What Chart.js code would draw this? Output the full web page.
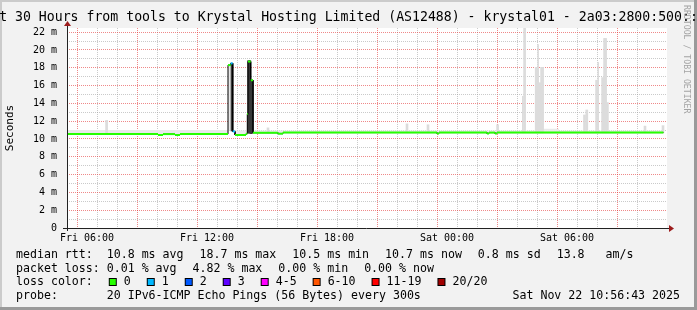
<!DOCTYPE html>
<html>
<head>
<meta charset="utf-8">
<script src="https://cdn.jsdelivr.net/npm/chart.js@4.4.1/dist/chart.umd.min.js"></script>
<style>
  body { margin: 0; background: #f2f2f2; }
  canvas { display: block; }
</style>
</head>
<body>
<canvas id="smoke" width="697" height="310"></canvas>
<script>
// x values are hours since Fri 00:00, y values are milliseconds
var xMin = 5, xMax = 35;
var yMax = 22.47;

// median rtt, as flat runs: start hour, end hour, value, loss level
var runStart = [5.0, 9.55, 9.8, 10.4, 10.65, 13.05, 13.185, 13.285, 13.4, 13.95, 14.015, 14.05, 14.185, 14.3, 15.55, 15.8, 23.5, 23.6, 26.0, 26.1, 26.4, 26.5];
var runEnd   = [9.55, 9.8, 10.4, 10.65, 13.05, 13.185, 13.285, 13.4, 13.95, 14.015, 14.05, 14.185, 14.3, 15.55, 15.8, 23.5, 23.6, 26.0, 26.1, 26.4, 26.5, 34.82];
var runVal   = [10.55, 10.45, 10.55, 10.45, 10.55, 18.3, 18.5, 10.85, 10.45, 10.6, 12.8, 18.7, 16.6, 10.7, 10.6, 10.72, 10.62, 10.72, 10.62, 10.72, 10.62, 10.72];
var runLoss  = [0, 0, 0, 0, 0, 0, 1, 1, 0, 0, 0, 0, 0, 0, 0, 0, 0, 0, 0, 0, 0, 0];

// thin smoke band just above the median
var bandX   = [5.0, 13.05, 14.3, 28.8, 29.6, 34.82];
var bandTop = [11.0, 10.95, 10.95, 11.15, 10.95, 10.95];

// smoke spikes (light grey)
var smokeX    = [6.98, 15.05, 22.0, 23.05, 26.53, 27.88, 28.46, 28.52, 28.61, 28.67, 28.73, 28.78, 30.875, 30.99, 31.48, 31.78, 31.88, 31.93, 32.02, 33.9, 34.8];
var smokeLow  = [10.55, 10.7, 10.7, 10.7, 10.7, 10.7, 10.7, 10.7, 10.7, 10.7, 10.7, 10.7, 10.7, 10.7, 10.7, 10.7, 10.7, 10.7, 10.7, 10.7, 10.7];
var smokeHigh = [12.1, 11.25, 11.7, 11.6, 11.6, 22.47, 18.05, 18.05, 16.3, 16.3, 18.05, 18.05, 12.7, 13.26, 16.6, 16.9, 21.3, 21.3, 14.1, 11.45, 11.5];
var thinX    = [27.79, 28.555, 31.56];
var thinLow  = [10.7, 10.7, 10.7];
var thinHigh = [14.8, 20.6, 18.6];

// dense smoke at the two rtt spikes
var darkX    = [13.25, 14.08, 14.14, 14.22];
var darkLow  = [10.9, 10.65, 10.65, 10.6];
var darkHigh = [18.5, 18.8, 18.8, 16.6];

var lossLabels = ['0', '1', '2', '3', '4-5', '6-10', '11-19', '20/20'];
var lossColors = ['#26ff00', '#00b8ff', '#0059ff', '#5e00ff', '#ff00ff', '#ff5500', '#ff0000', '#a10000'];

var titleText = 'Last 30 Hours from tools to Krystal Hosting Limited (AS12488) - krystal01 - 2a03:2800:500::100';
var rttLegend = ['median rtt:  10.8 ms avg', '18.7 ms max', '10.5 ms min', '10.7 ms now', '0.8 ms sd', '13.8   am/s'];
var lossLegend = ['packet loss: 0.01 % avg', '4.82 % max', '0.00 % min', '0.00 % now'];
var probeText = 'probe:       20 IPv6-ICMP Echo Pings (56 Bytes) every 300s';
var dateText = 'Sat Nov 22 10:56:43 2025';

var FONT = '"DejaVu Sans Mono", monospace';

var medPoints = [];
for (var i = 0; i < runStart.length; i++) {
  medPoints.push({x: runStart[i], y: runVal[i]}, {x: runEnd[i], y: runVal[i]});
}
function bars(xs, lo, hi) {
  return xs.map(function(x, i) { return {x: x, y: [lo[i], hi[i]]}; });
}

var minorGrid = 'rgba(150,150,150,0.5)';
var majorGrid = 'rgba(225,40,40,0.55)';

var frame = {
  id: 'frame',
  beforeDraw: function(chart) {
    var ctx = chart.ctx, a = chart.chartArea;
    ctx.save();
    ctx.fillStyle = '#f2f2f2';
    ctx.fillRect(0, 0, 697, 310);
    ctx.fillStyle = '#cbcbcb';
    ctx.fillRect(0, 0, 697, 2);
    ctx.fillRect(0, 0, 2, 310);
    ctx.fillStyle = '#9a9a9a';
    ctx.fillRect(0, 307, 697, 3);
    ctx.fillRect(694, 0, 3, 310);
    ctx.fillStyle = '#ffffff';
    ctx.fillRect(a.left, a.top, a.right - a.left, a.bottom - a.top);
    ctx.restore();
  },
  afterDraw: function(chart) {
    var ctx = chart.ctx, a = chart.chartArea;
    ctx.save();
    // axes with arrows
    ctx.strokeStyle = '#222';
    ctx.lineWidth = 1;
    ctx.beginPath();
    ctx.moveTo(a.left - 4, a.bottom + 0.5);
    ctx.lineTo(a.right + 3, a.bottom + 0.5);
    ctx.moveTo(a.left + 0.5, a.bottom + 3);
    ctx.lineTo(a.left + 0.5, a.top - 3);
    ctx.stroke();
    ctx.fillStyle = '#9c1c1c';
    ctx.beginPath();
    ctx.moveTo(a.right + 2, a.bottom - 3);
    ctx.lineTo(a.right + 7, a.bottom + 0.5);
    ctx.lineTo(a.right + 2, a.bottom + 4);
    ctx.closePath();
    ctx.fill();
    ctx.beginPath();
    ctx.moveTo(a.left - 3, a.top - 2);
    ctx.lineTo(a.left + 0.5, a.top - 7);
    ctx.lineTo(a.left + 4, a.top - 2);
    ctx.closePath();
    ctx.fill();

    // title
    ctx.fillStyle = '#000';
    ctx.textBaseline = 'middle';
    ctx.textAlign = 'center';
    ctx.font = '13.2px ' + FONT;
    ctx.fillText(titleText, 348.5, 18);

    // legend
    ctx.textAlign = 'left';
    ctx.font = '11.6px ' + FONT;
    var x = 16;
    rttLegend.forEach(function(t) {
      ctx.fillText(t, x, 254.5);
      x += ctx.measureText(t).width + 16;
    });
    x = 16;
    lossLegend.forEach(function(t) {
      ctx.fillText(t, x, 268.5);
      x += ctx.measureText(t).width + 16;
    });
    ctx.fillText('loss color:', 16, 282);
    x = 16 + ctx.measureText('loss color:').width + 16;
    lossLabels.forEach(function(t, i) {
      ctx.fillStyle = '#000';
      ctx.fillRect(x, 278, 8, 8);
      ctx.fillStyle = lossColors[i];
      ctx.fillRect(x + 1, 279, 6, 6);
      ctx.fillStyle = '#000';
      ctx.fillText(t, x + 15, 282);
      x += 15 + ctx.measureText(t).width + 16;
    });
    ctx.fillText(probeText, 16, 296);
    ctx.textAlign = 'right';
    ctx.fillText(dateText, 680, 296);

    // rrdtool credit
    ctx.translate(686, 5);
    ctx.rotate(Math.PI / 2);
    ctx.textAlign = 'left';
    ctx.font = '8.2px ' + FONT;
    ctx.fillStyle = '#a4a4a4';
    ctx.fillText('RRDTOOL / TOBI OETIKER', 0, 0);
    ctx.restore();
  }
};

function gridColor(major, skip) {
  return function(c) {
    if (!c.tick) return 'rgba(0,0,0,0)';
    var v = c.tick.value;
    if (skip(v)) return 'rgba(0,0,0,0)';
    return v % major === 0 ? majorGrid : minorGrid;
  };
}

var ctx = document.getElementById('smoke').getContext('2d');
var chart = new Chart(ctx, {
  type: 'line',
  data: {
    datasets: [{
      label: 'median',
      data: medPoints,
      borderWidth: 2,
      pointRadius: 0,
      order: 0,
      segment: {
        borderColor: function(c) {
          if (c.p0DataIndex % 2 === 1) return 'rgba(0,0,0,0)';
          return lossColors[runLoss[c.p0DataIndex / 2]];
        }
      }
    }, {
      label: 'median line',
      data: medPoints,
      borderColor: '#000',
      borderWidth: 1,
      pointRadius: 0,
      order: 1
    }, {
      label: 'smoke band',
      data: bandX.map(function(x, i) { return {x: x, y: bandTop[i]}; }),
      stepped: true,
      borderWidth: 0,
      pointRadius: 0,
      backgroundColor: '#e9e9e9',
      fill: 1,
      order: 4
    }, {
      type: 'bar',
      label: 'smoke',
      data: bars(smokeX, smokeLow, smokeHigh),
      backgroundColor: '#dcdcdc',
      barThickness: 2,
      grouped: false,
      order: 3
    }, {
      type: 'bar',
      label: 'smoke thin',
      data: bars(thinX, thinLow, thinHigh),
      backgroundColor: '#dcdcdc',
      barThickness: 1,
      grouped: false,
      order: 3
    }, {
      type: 'bar',
      label: 'dense smoke',
      data: bars(darkX, darkLow, darkHigh),
      backgroundColor: '#383838',
      barThickness: 2,
      grouped: false,
      order: 2
    }]
  },
  options: {
    responsive: false,
    animation: false,
    devicePixelRatio: 1,
    layout: { padding: { left: 0, right: 30, top: 28, bottom: 62 } },
    plugins: {
      legend: { display: false },
      tooltip: { enabled: false },
      title: { display: false }
    },
    scales: {
      x: {
        type: 'linear',
        min: xMin,
        max: xMax,
        offset: false,
        afterFit: function(s) { s.height = 20; },
        border: { display: false, dash: [1, 1] },
        grid: {
          drawTicks: false,
          color: gridColor(3, function(v) { return v === xMin || v === xMax; })
        },
        ticks: {
          stepSize: 1,
          autoSkip: false,
          maxRotation: 0,
          includeBounds: false,
          padding: 4,
          color: '#000',
          font: { family: FONT, size: 10 },
          callback: function(v) {
            if (v % 6 !== 0) return '';
            var h = v % 24;
            return (v < 24 ? 'Fri ' : 'Sat ') + (h < 10 ? '0' : '') + h + ':00';
          }
        }
      },
      y: {
        min: 0,
        max: yMax,
        afterFit: function(s) { s.width = 67; },
        border: { display: false, dash: [1, 1] },
        grid: {
          drawTicks: false,
          color: gridColor(2, function(v) { return v === 0; })
        },
        title: {
          display: true,
          text: 'Seconds',
          color: '#000',
          font: { family: FONT, size: 11 },
          padding: { top: 3.5, bottom: 0 }
        },
        ticks: {
          stepSize: 1,
          autoSkip: false,
          includeBounds: false,
          padding: 10,
          color: '#000',
          font: { family: FONT, size: 10 },
          callback: function(v) {
            if (v % 2 !== 0) return '';
            return v === 0 ? '0' : v + ' m';
          }
        }
      }
    }
  },
  plugins: [frame]
});
</script>
</body>
</html>
